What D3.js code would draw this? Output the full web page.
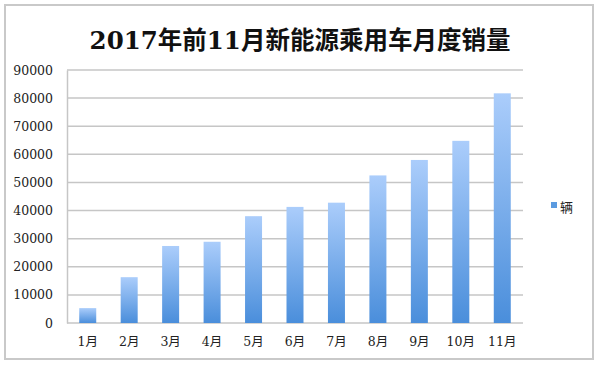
<!DOCTYPE html>
<html>
<head>
<meta charset="utf-8">
<script src="https://cdn.jsdelivr.net/npm/d3@7"></script>
<style>
  body { margin: 0; background: #fff; }
  svg { display: block; }
</style>
</head>
<body>
<svg id="svg" width="600" height="366"></svg>
<script>
const months = ['1月', '2月', '3月', '4月', '5月', '6月', '7月', '8月', '9月', '10月', '11月'];
const sales = [5300, 16300, 27400, 28900, 38000, 41300, 42800, 52500, 58000, 64800, 81700];
const yTicks = [0, 10000, 20000, 30000, 40000, 50000, 60000, 70000, 80000, 90000];
const seriesName = '辆';
const titleText = '2017年前11月新能源乘用车月度销量';

const svg = d3.select('#svg');
const padding = {top: 70, right: 77, bottom: 43, left: 67};
const chartArea = {
    width: 600 - padding.left - padding.right,
    height: 366 - padding.top - padding.bottom
};
const serif = '"DejaVu Serif", "Liberation Serif", "Noto Sans CJK SC", serif';

// outer frame
svg.append('rect')
    .attr('x', 5).attr('y', 5)
    .attr('width', 588).attr('height', 354)
    .attr('fill', 'none')
    .attr('stroke', '#c9c9c9')
    .attr('stroke-width', 2);

// title
svg.append('text')
    .attr('x', 300).attr('y', 49)
    .attr('text-anchor', 'middle')
    .style('font-family', serif)
    .style('font-weight', 'bold')
    .style('font-size', '24.5px')
    .attr('fill', '#111')
    .text(titleText);

const yScale = d3.scaleLinear()
    .domain([0, 90000])
    .range([chartArea.height, 0]);
const xScale = d3.scaleBand()
    .domain(months)
    .range([0, chartArea.width])
    .paddingInner(0.59)
    .paddingOuter(0.295);

const defs = svg.append('defs');
const grad = defs.append('linearGradient')
    .attr('id', 'barGrad')
    .attr('x1', 0).attr('y1', 0).attr('x2', 0).attr('y2', 1);
grad.append('stop').attr('offset', '0%').attr('stop-color', '#abcdfb');
grad.append('stop').attr('offset', '100%').attr('stop-color', '#4a8edb');

const chart = svg.append('g')
    .attr('transform', 'translate(' + padding.left + ',' + padding.top + ')');

// grid lines
chart.append('g')
    .selectAll('line').data(yTicks)
    .enter().append('line')
    .attr('x1', 0).attr('x2', chartArea.width)
    .attr('y1', d => yScale(d)).attr('y2', d => yScale(d))
    .attr('stroke', '#c6c6c6')
    .attr('stroke-width', 1.5);

// y axis
const yAxis = chart.append('g')
    .call(d3.axisLeft(yScale).tickValues(yTicks).tickFormat(d3.format('d'))
        .tickSize(0).tickPadding(14));
yAxis.select('.domain').attr('stroke', '#c6c6c6').attr('stroke-width', 1.5);
yAxis.selectAll('text')
    .style('font-family', serif)
    .style('font-size', '12.5px')
    .attr('fill', '#222');

// x axis
const xAxis = chart.append('g')
    .attr('transform', 'translate(0,' + chartArea.height + ')')
    .call(d3.axisBottom(xScale).tickSize(0).tickPadding(14));
xAxis.select('.domain').remove();
xAxis.selectAll('text')
    .style('font-family', serif)
    .style('font-size', '12.5px')
    .attr('fill', '#222');

// bars
chart.append('g')
    .selectAll('rect').data(sales)
    .enter().append('rect')
    .attr('x', (d, i) => xScale(months[i]))
    .attr('y', d => yScale(d))
    .attr('width', xScale.bandwidth())
    .attr('height', d => chartArea.height - yScale(d))
    .attr('fill', 'url(#barGrad)');

// legend
const legend = svg.append('g').attr('transform', 'translate(551,202)');
legend.append('rect')
    .attr('width', 6).attr('height', 6)
    .attr('fill', '#5b9be0');
legend.append('text')
    .attr('x', 9).attr('y', 10)
    .style('font-family', serif)
    .style('font-size', '13px')
    .attr('fill', '#222')
    .text(seriesName);
</script>
</body>
</html>
